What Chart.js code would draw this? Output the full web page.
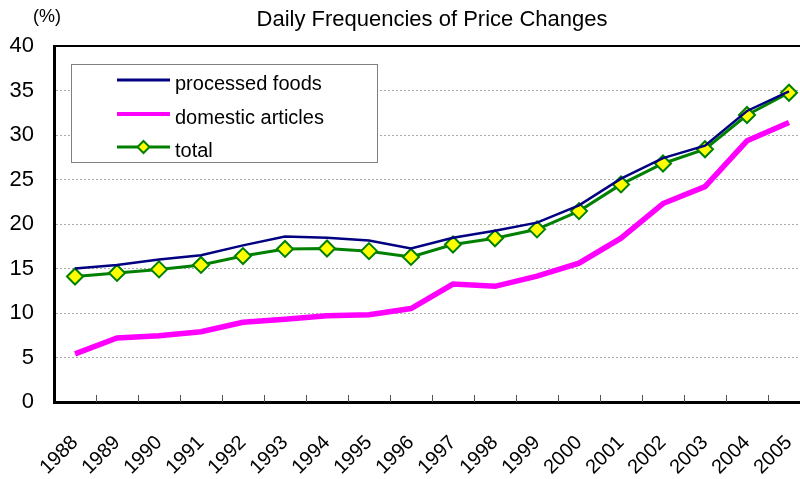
<!DOCTYPE html>
<html>
<head>
<meta charset="utf-8">
<script src="https://cdn.jsdelivr.net/npm/chart.js@4.4.1/dist/chart.umd.min.js"></script>
<style>
  html, body { margin: 0; padding: 0; background: #fff; overflow: hidden; }
  #wrap { width: 820px; height: 479px; }
</style>
</head>
<body>
<div id="wrap"><canvas id="grafico" width="820" height="479"></canvas></div>
<script>
const anos = ['1988','1989','1990','1991','1992','1993','1994','1995','1996',
              '1997','1998','1999','2000','2001','2002','2003','2004','2005']

const processedFoods = [15.0, 15.4, 16.0, 16.5, 17.6, 18.6, 18.45, 18.15, 17.25,
                        18.45, 19.25, 20.15, 22.1, 25.1, 27.4, 28.8, 32.7, 34.9]
const domesticArticles = [5.4, 7.2, 7.45, 7.9, 8.95, 9.3, 9.7, 9.8, 10.5,
                          13.25, 13.0, 14.15, 15.6, 18.4, 22.3, 24.2, 29.35, 31.4]
const total = [14.1, 14.5, 14.9, 15.4, 16.4, 17.2, 17.25, 16.95, 16.3,
               17.7, 18.4, 19.4, 21.45, 24.45, 26.8, 28.4, 32.25, 34.75]

const yTicks = [0, 5, 10, 15, 20, 25, 30, 35, 40]

const titulo = 'Daily Frequencies of Price Changes'
const unidade = '(%)'

// titulo, moldura de cima, marcas do eixo x e legenda
const extras = {
  id: 'extras',
  afterDraw(chart) {
    const c = chart.ctx
    const area = chart.chartArea
    const x = chart.scales.x
    c.save()

    // linha de cima
    c.strokeStyle = '#000'
    c.lineWidth = 2
    c.beginPath()
    c.moveTo(area.left, area.top)
    c.lineTo(area.right, area.top)
    c.stroke()

    // marcas entre categorias, para dentro
    c.lineWidth = 1
    c.strokeStyle = '#555'
    for (let i = 1; i < anos.length; i++) {
      const px = Math.round((x.getPixelForValue(i - 1) + x.getPixelForValue(i)) / 2) + 0.5
      c.beginPath()
      c.moveTo(px, area.bottom - 7)
      c.lineTo(px, area.bottom)
      c.stroke()
    }

    // titulo
    c.fillStyle = '#000'
    c.font = '22px "Liberation Sans", Arial, sans-serif'
    c.textAlign = 'center'
    c.textBaseline = 'middle'
    c.fillText(titulo, (area.left + area.right) / 2, 20)

    c.font = '18px "Liberation Sans", Arial, sans-serif'
    c.textAlign = 'left'
    c.fillText(unidade, 33, 17)

    // legenda
    const lx = area.left + 17, ly = area.top + 18, lw = 306, lh = 98
    c.fillStyle = '#fff'
    c.fillRect(lx, ly, lw, lh)
    c.strokeStyle = '#808080'
    c.lineWidth = 1
    c.strokeRect(lx + 0.5, ly + 0.5, lw, lh)

    const rows = [16, 50, 83]
    chart.data.datasets.forEach((ds, i) => {
      const yy = ly + rows[i]
      c.strokeStyle = ds.borderColor
      c.lineWidth = ds.legendWidth
      c.beginPath()
      c.moveTo(lx + 46, yy)
      c.lineTo(lx + 99, yy)
      c.stroke()
      if (ds.pointRadius > 0) {
        const cx = lx + 72.5, r = 6
        c.beginPath()
        c.moveTo(cx, yy - r); c.lineTo(cx + r, yy); c.lineTo(cx, yy + r); c.lineTo(cx - r, yy); c.closePath()
        c.fillStyle = ds.pointBackgroundColor
        c.fill()
        c.lineWidth = 2
        c.strokeStyle = ds.pointBorderColor
        c.stroke()
      }
      c.fillStyle = '#000'
      c.font = '20px "Liberation Sans", Arial, sans-serif'
      c.textAlign = 'left'
      c.textBaseline = 'middle'
      c.fillText(ds.label, lx + 104, yy + 4)
    })
    c.restore()
  }
}

new Chart(document.getElementById('grafico'), {
  type: 'line',
  data: {
    labels: anos,
    datasets: [
      {
        label: 'processed foods',
        data: processedFoods,
        borderColor: '#000080',
        borderWidth: 2.5,
        legendWidth: 3,
        pointRadius: 0,
        tension: 0
      },
      {
        label: 'domestic articles',
        data: domesticArticles,
        borderColor: '#FF00FF',
        borderWidth: 5.5,
        legendWidth: 4,
        pointRadius: 0,
        tension: 0
      },
      {
        label: 'total',
        data: total,
        borderColor: '#008000',
        borderWidth: 3,
        legendWidth: 3,
        pointStyle: 'rectRot',
        pointRadius: 8,
        pointBackgroundColor: '#FFFF00',
        pointBorderColor: '#008000',
        pointBorderWidth: 2,
        tension: 0
      }
    ]
  },
  options: {
    responsive: false,
    animation: false,
    layout: { padding: { top: 46, right: 3, left: 0, bottom: 0 } },
    plugins: {
      legend: { display: false },
      title: { display: false },
      tooltip: { enabled: false }
    },
    scales: {
      x: {
        offset: true,
        afterFit: s => { s.height = 77; s.paddingLeft = 0; s.paddingRight = 0 },
        grid: { display: false, drawTicks: false },
        border: { display: true, color: '#000', width: 3 },
        ticks: {
          color: '#000',
          font: { family: '"Liberation Sans", Arial, sans-serif', size: 20 },
          minRotation: 45,
          maxRotation: 45,
          padding: 29,
          autoSkip: false
        }
      },
      y: {
        min: 0,
        max: 40,
        afterFit: s => { s.width = 54; s.paddingTop = 0; s.paddingBottom = 0 },
        afterBuildTicks: s => { s.ticks = yTicks.map(v => ({ value: v })) },
        grid: {
          color: ctx => (ctx.tick && (ctx.tick.value === 0 || ctx.tick.value === 40)) ? 'rgba(0,0,0,0)' : '#aaaaaa',
          lineWidth: 1,
          drawTicks: false
        },
        border: { display: true, color: '#000', width: 3, dash: [2, 2] },
        ticks: {
          color: '#000',
          font: { family: '"Liberation Sans", Arial, sans-serif', size: 22 },
          padding: 20
        }
      }
    }
  },
  plugins: [extras]
})
</script>
</body>
</html>
